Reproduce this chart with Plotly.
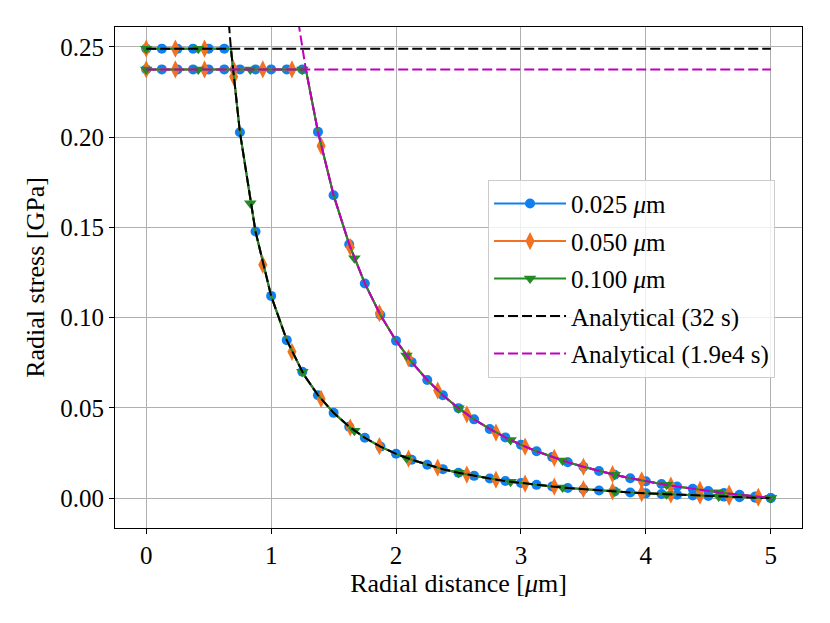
import plotly.graph_objects as go

# radial grid used for the FE profiles (um); kink points inserted at 0.678 and 1.278
r_fe = [0, 0.125, 0.25, 0.375, 0.5, 0.625, 0.678, 0.75, 0.875, 1.0, 1.125, 1.25, 1.278,
        1.375, 1.5, 1.625, 1.75, 1.875, 2.0, 2.125, 2.25, 2.375, 2.5, 2.625, 2.75, 2.875,
        3.0, 3.125, 3.25, 3.375, 3.5, 3.625, 3.75, 3.875, 4.0, 4.125, 4.25, 4.375, 4.5,
        4.625, 4.75, 4.875, 5.0]

# radial stress (GPa) at 32 s
s32_fe = [0.249, 0.249, 0.249, 0.249, 0.249, 0.249, 0.249, 0.2027, 0.1477, 0.1120, 0.0875,
          0.0700, 0.0667, 0.0570, 0.0472, 0.0395, 0.0334, 0.0285, 0.0245, 0.0212, 0.0184,
          0.0160, 0.0140, 0.0123, 0.0108, 0.0094, 0.0083, 0.0073, 0.0064, 0.0056, 0.0049,
          0.0042, 0.0036, 0.0031, 0.0026, 0.0022, 0.0018, 0.0014, 0.0011, 0.0008, 0.0005,
          0.0002, 0.0]

# radial stress (GPa) at 1.9e4 s
s19_fe = [0.2375, 0.2375, 0.2375, 0.2375, 0.2375, 0.2375, 0.2375, 0.2375, 0.2375, 0.2375,
          0.2375, 0.2375, 0.2375, 0.2029, 0.1678, 0.1406, 0.1189, 0.1014, 0.0872, 0.0753,
          0.0654, 0.0570, 0.0498, 0.0436, 0.0383, 0.0336, 0.0295, 0.0259, 0.0227, 0.0198,
          0.0173, 0.0150, 0.0129, 0.0110, 0.0093, 0.0078, 0.0064, 0.0051, 0.0039, 0.0028,
          0.0018, 0.0009, 0.0]

# marker positions for the 0.025 um mesh are the profile points minus the kink points
blue_idx = [i for i in range(len(r_fe)) if r_fe[i] not in (0.678, 1.278)]

# 0.050 um mesh markers
r_orange = [0, 0.2333, 0.4667, 0.7, 0.9333, 1.1667, 1.4, 1.6333, 1.8667, 2.1, 2.3333,
            2.5667, 2.8, 3.0333, 3.2667, 3.5, 3.7333, 3.9667, 4.2, 4.4333, 4.6667, 4.9]
s32_orange = [0.249, 0.249, 0.249, 0.2334, 0.1293, 0.0810, 0.0549, 0.0391, 0.0288, 0.0218,
              0.0168, 0.0130, 0.0102, 0.0080, 0.0063, 0.0049, 0.0037, 0.0027, 0.0019,
              0.0013, 0.0007, 0.0002]
s19_orange = [0.2375, 0.2375, 0.2375, 0.2375, 0.2375, 0.2375, 0.1951, 0.1390, 0.1025,
              0.0775, 0.0596, 0.0464, 0.0363, 0.0285, 0.0223, 0.0173, 0.0132, 0.0098,
              0.0069, 0.0045, 0.0025, 0.0007]

# 0.100 um mesh markers
r_green = [0, 0.4167, 0.8333, 1.25, 1.6667, 2.0833, 2.5, 2.9167, 3.3333, 3.75, 4.1667,
           4.5833, 5.0]
s32_green = [0.249, 0.249, 0.1633, 0.0700, 0.0373, 0.0222, 0.0140, 0.0090, 0.0058, 0.0036,
             0.0021, 0.0009, 0.0]
s19_green = [0.2375, 0.2375, 0.2375, 0.2375, 0.1328, 0.0790, 0.0498, 0.0322, 0.0208,
             0.0129, 0.0073, 0.0032, 0.0]

# analytical curves: plateau value plus the 1/r^2 branch (runs off the top of the axes)
plateau32 = 0.249
plateau19 = 0.2375
r_ana32 = [0.625, 0.65] + r_fe[6:]
s_ana32 = [0.294, 0.2715] + s32_fe[6:]
r_ana19 = [1.2, 1.25] + r_fe[12:]
s_ana19 = [0.2716, 0.249] + s19_fe[12:]

BLUE = "#1080f0"
ORANGE = "#f27222"
GREEN = "#238b23"
MAGENTA = "#bf00bf"

meshes = [
    ("0.025 <i>μ</i>m", BLUE, "circle", 10,
     [r_fe[i] for i in blue_idx], [s32_fe[i] for i in blue_idx], [s19_fe[i] for i in blue_idx]),
    ("0.050 <i>μ</i>m", ORANGE, "diamond-tall", 13, r_orange, s32_orange, s19_orange),
    ("0.100 <i>μ</i>m", GREEN, "triangle-down", 11, r_green, s32_green, s19_green),
]

fig = go.Figure()

for name, color, symbol, size, rm, m32, m19 in meshes:
    for sl, rmk, smk in ((s32_fe, rm, m32), (s19_fe, rm, m19)):
        fig.add_trace(go.Scatter(x=r_fe, y=sl, mode="lines", showlegend=False,
                                 line=dict(color=color, width=2), hoverinfo="skip"))
        fig.add_trace(go.Scatter(x=rmk, y=smk, mode="markers", showlegend=False,
                                 marker=dict(color=color, symbol=symbol, size=size,
                                             line=dict(width=0))))
    fig.add_trace(go.Scatter(x=[None], y=[None], mode="lines+markers", name=name,
                             legendgroup=name,
                             line=dict(color=color, width=2),
                             marker=dict(color=color, symbol=symbol, size=size,
                                         line=dict(width=0))))

for name, color, plat, ra, sa in (("Analytical (32 s)", "black", plateau32, r_ana32, s_ana32),
                                  ("Analytical (1.9e4 s)", MAGENTA, plateau19, r_ana19, s_ana19)):
    dash = dict(color=color, width=2, dash="10px,4px")
    fig.add_trace(go.Scatter(x=[0, 5], y=[plat, plat], mode="lines", line=dash,
                             showlegend=False, hoverinfo="skip"))
    fig.add_trace(go.Scatter(x=ra, y=sa, mode="lines", line=dash, showlegend=False))
    fig.add_trace(go.Scatter(x=[None], y=[None], mode="lines", line=dash, name=name,
                             legendgroup=name))

axis_common = dict(
    showline=True, linecolor="black", linewidth=1, mirror=True,
    showgrid=True, gridcolor="#b0b0b0", gridwidth=1,
    ticks="outside", ticklen=5, tickcolor="black",
    zeroline=False,
    tickfont=dict(size=25, color="black"),
)

# the page puts the figure 8px in from the top-left corner, so margins are shifted
fig.update_layout(
    width=830, height=623,
    margin=dict(l=107, r=36, t=19, b=103),
    paper_bgcolor="white", plot_bgcolor="white",
    font=dict(family="Liberation Serif", size=25, color="black"),
    xaxis=dict(range=[-0.25, 5.25], tickvals=[0, 1, 2, 3, 4, 5],
               title=dict(text="Radial distance [<i>μ</i>m]", standoff=2,
                          font=dict(size=26)),
               **axis_common),
    yaxis=dict(range=[-0.0166, 0.261], tickvals=[0, 0.05, 0.10, 0.15, 0.20, 0.25],
               tickformat=".2f",
               title=dict(text="Radial stress [GPa]", standoff=8, font=dict(size=26)),
               **axis_common),
    legend=dict(x=0.543, y=0.695, xanchor="left", yanchor="top",
                bgcolor="rgba(255,255,255,0.8)", bordercolor="#cccccc", borderwidth=1,
                font=dict(size=25), traceorder="grouped", tracegroupgap=2,
                itemwidth=72),
)

fig.write_html("out.html")
